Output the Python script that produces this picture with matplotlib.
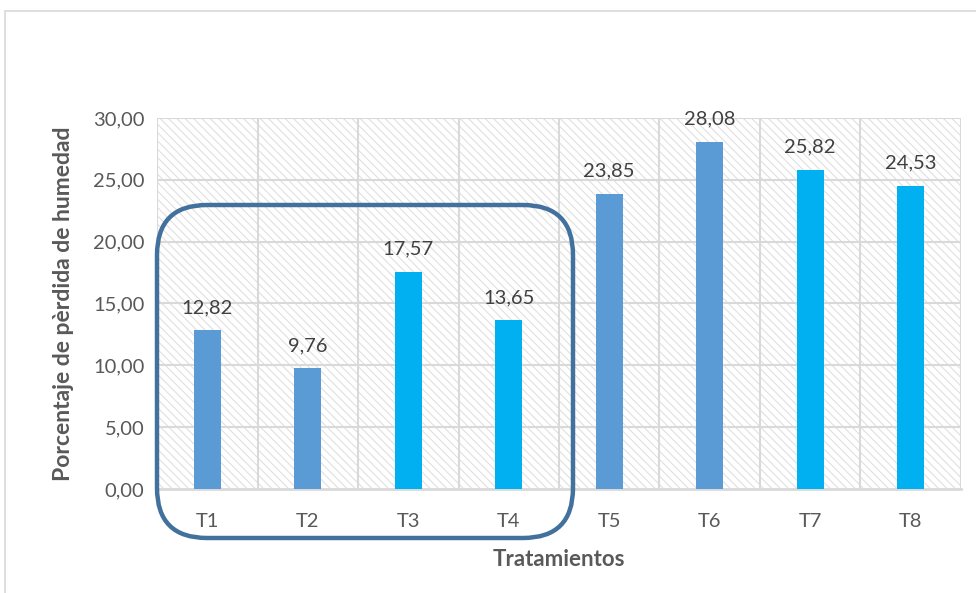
import matplotlib.pyplot as plt
import numpy as np
from matplotlib.patches import FancyBboxPatch, Rectangle

plt.rcParams['font.family'] = ['Lato', 'DejaVu Sans']
plt.rcParams['hatch.linewidth'] = 0.7

tratamientos = ['T1', 'T2', 'T3', 'T4', 'T5', 'T6', 'T7', 'T8']
perdida = [12.82, 9.76, 17.57, 13.65, 23.85, 28.08, 25.82, 24.53]
colores = ['#5b9bd5', '#5b9bd5', '#00b0f0', '#00b0f0',
           '#5b9bd5', '#5b9bd5', '#00b0f0', '#00b0f0']
yticks = [0, 5, 10, 15, 20, 25, 30]

fig = plt.figure(figsize=(9.76, 5.93), dpi=100)
ax = fig.add_axes([0.1609, 0.1754, 0.8237, 0.6256])
ax.patch.set_facecolor('white')

# outer chart border
fig.patches.append(Rectangle((5 / 976, -0.1), 1.2, 1 - 11 / 593 + 0.1,
                             transform=fig.transFigure, fill=False,
                             edgecolor='#d9d9d9', linewidth=1.2))

xs = np.arange(len(tratamientos))
ax.set_xlim(-0.5, len(tratamientos) - 0.5)
ax.set_ylim(0, 30)

# hatched plot background
ax.add_patch(Rectangle((0, 0), 1, 1, transform=ax.transAxes, facecolor='white',
                       edgecolor='#dcdcdc', linewidth=0, hatch='\\\\\\\\', zorder=0.5))

for v in yticks[1:]:
    ax.axhline(v, color='#d9d9d9', linewidth=1.5, zorder=1)
for b in np.arange(-0.5, len(tratamientos), 1):
    ax.axvline(b, color='#d9d9d9', linewidth=1.5, zorder=1)

bars = ax.bar(xs, perdida, width=0.27, color=colores, zorder=3)
for x, v in zip(xs, perdida):
    ax.text(x, v + 1.15, f'{v:.2f}'.replace('.', ','), ha='center', va='bottom',
            fontsize=14.5, color='#404040', zorder=4)

for s in ['top', 'right', 'left']:
    ax.spines[s].set_visible(False)
ax.spines['bottom'].set_color('#d9d9d9')
ax.spines['bottom'].set_linewidth(2)

ax.set_xticks(xs)
ax.set_xticklabels(tratamientos)
ax.set_yticks(yticks)
ax.set_yticklabels([f'{v:.2f}'.replace('.', ',') for v in yticks])
ax.tick_params(axis='both', length=0, labelsize=14.5, colors='#595959')
ax.tick_params(axis='x', pad=17)
ax.tick_params(axis='y', pad=9)

ax.set_xlabel('Tratamientos', fontsize=16, fontweight='bold', color='#595959', labelpad=14)
ax.set_ylabel('Porcentaje de pèrdida de humedad', fontsize=16.5, fontweight='bold',
              color='#595959', labelpad=14)

# rounded box around T1-T4
box = FancyBboxPatch((1.57, 0.55), 4.16, 3.33, boxstyle='round,pad=0,rounding_size=0.5',
                     transform=fig.dpi_scale_trans, fill=False,
                     edgecolor='#41719c', linewidth=3.2, zorder=5)
fig.patches.append(box)

fig.savefig('out.png', dpi=100)
